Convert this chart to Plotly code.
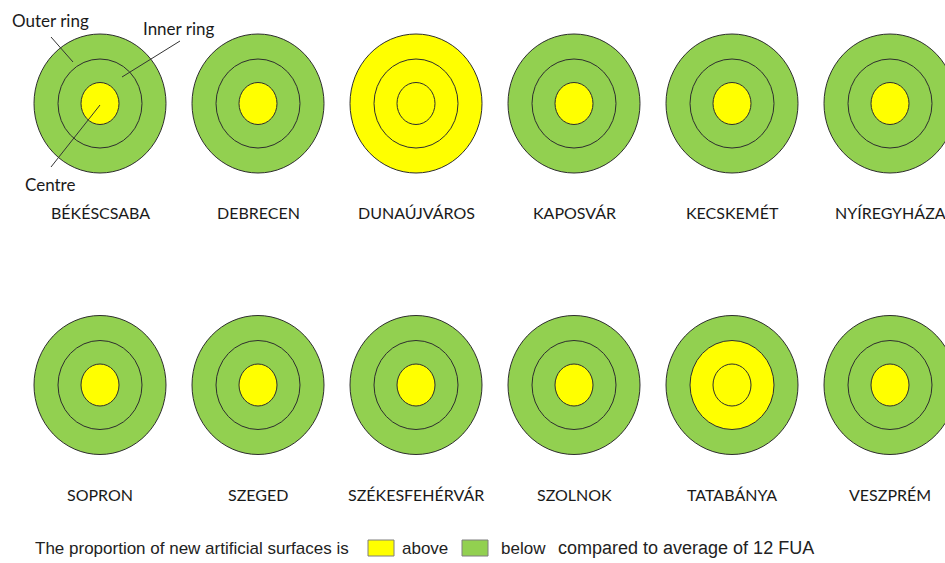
import plotly.graph_objects as go

# ---------------- data ----------------
cities = ["BÉKÉSCSABA", "DEBRECEN", "DUNAÚJVÁROS", "KAPOSVÁR", "KECSKEMÉT", "NYÍREGYHÁZA",
          "SOPRON", "SZEGED", "SZÉKESFEHÉRVÁR", "SZOLNOK", "TATABÁNYA", "VESZPRÉM"]
outer_ring = ["below", "below", "above", "below", "below", "below",
              "below", "below", "below", "below", "below", "below"]
inner_ring = ["below", "below", "above", "below", "below", "below",
              "below", "below", "below", "below", "above", "below"]
centre = ["above", "above", "above", "above", "above", "above",
          "above", "above", "above", "above", "above", "above"]
legend_labels = ["above", "below"]

# ---------------- style ----------------
W, H = 945, 563
COLORS = {"above": "#FFFF00", "below": "#92D050"}
EDGE = "#2e2e2e"
RADII = [(66, 69.5), (42, 44.5), (19, 21)]   # outer, inner, centre (rx, ry)
X0, DX = 100, 158
ROW_Y = [103.5, 385]
LABEL_Y = [212, 494]
LABEL_FONT = dict(family="Lato, Open Sans, sans-serif", size=16, color="#1a1a1a")

fig = go.Figure()
shapes = []
annotations = []

for i, name in enumerate(cities):
    col, row = i % 6, i // 6
    cx, cy = X0 + DX * col, ROW_Y[row]
    for (rx, ry), status in zip(RADII, (outer_ring[i], inner_ring[i], centre[i])):
        shapes.append(dict(type="circle", xref="x", yref="y",
                           x0=cx - rx, x1=cx + rx, y0=cy - ry, y1=cy + ry,
                           fillcolor=COLORS[status], line=dict(color=EDGE, width=1),
                           layer="above"))
    annotations.append(dict(x=cx, y=LABEL_Y[row], xref="x", yref="y", text=name,
                            showarrow=False, font=LABEL_FONT,
                            xanchor="center", yanchor="middle"))

# explanatory leader lines (first city)
callouts = [("Outer ring", 10, 20, (51, 37), (73, 62)),
            ("Inner ring", 141, 28, (180, 41), (122, 77)),
            ("Centre", 23, 184, (51, 167), (100, 105))]
for text, tx, ty, p0, p1 in callouts:
    shapes.append(dict(type="line", xref="x", yref="y", x0=p0[0], y0=p0[1], x1=p1[0], y1=p1[1],
                       line=dict(color="#333333", width=1), layer="above"))
    annotations.append(dict(x=tx, y=ty, xref="x", yref="y", text=text, showarrow=False,
                            font=dict(family="Lato, Open Sans, sans-serif", size=17, color="#1a1a1a"),
                            xanchor="left", yanchor="middle"))

# bottom legend
LEG_Y = 548
LEG_FONT = dict(family="Liberation Sans, Arial, sans-serif", size=17, color="#222222")
annotations.append(dict(x=33, y=LEG_Y, xref="x", yref="y",
                        text="The proportion of new artificial surfaces is",
                        showarrow=False, font=LEG_FONT, xanchor="left", yanchor="middle"))
box_x = [368, 462]
text_x = [400, 499]
for lab, bx, tx in zip(legend_labels, box_x, text_x):
    shapes.append(dict(type="rect", xref="x", yref="y", x0=bx, x1=bx + 26, y0=LEG_Y - 8, y1=LEG_Y + 8,
                       fillcolor=COLORS[lab], line=dict(color="#7f7f7f", width=1), layer="above"))
    annotations.append(dict(x=tx, y=LEG_Y, xref="x", yref="y", text=lab, showarrow=False,
                            font=LEG_FONT, xanchor="left", yanchor="middle"))
annotations.append(dict(x=556, y=LEG_Y, xref="x", yref="y",
                        text="compared to average of 12 FUA",
                        showarrow=False, font=dict(LEG_FONT, size=18), xanchor="left", yanchor="middle"))

fig.update_layout(
    width=W, height=H,
    margin=dict(l=0, r=0, t=0, b=0),
    paper_bgcolor="white", plot_bgcolor="white",
    xaxis=dict(range=[0, W], visible=False, fixedrange=True),
    yaxis=dict(range=[H, 0], visible=False, fixedrange=True),
    shapes=shapes, annotations=annotations, showlegend=False,
)

fig.write_html(
    "out.html",
    config={"displayModeBar": False},
    post_script="document.body.style.margin='0';document.body.style.padding='0';"
                "document.body.style.overflow='hidden';",
)
